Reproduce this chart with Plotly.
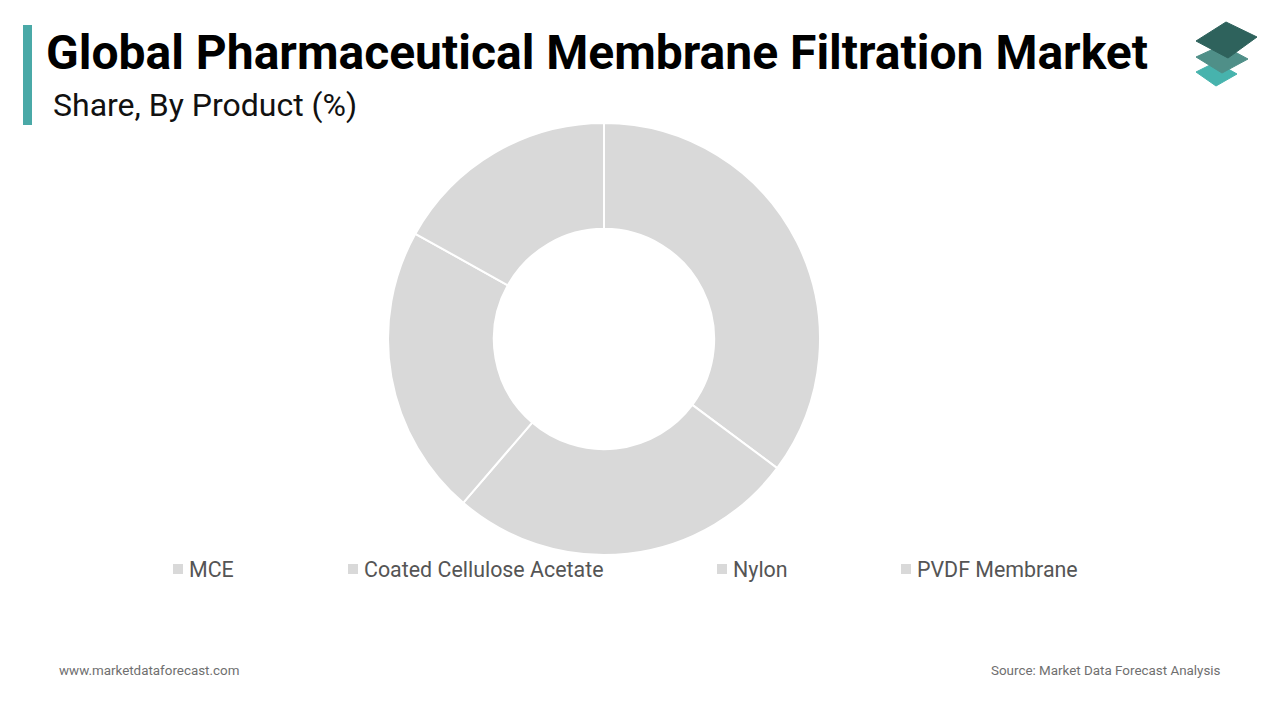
import plotly.graph_objects as go

categories = ["MCE", "Coated Cellulose Acetate", "Nylon", "PVDF Membrane"]
shares = [35.2, 26.1, 21.8, 16.9]

W, H = 1280, 720
slice_color = "#d9d9d9"

fig = go.Figure()
fig.add_trace(go.Pie(
    labels=categories,
    values=shares,
    hole=0.51,
    sort=False,
    direction="clockwise",
    rotation=0,
    marker=dict(colors=[slice_color] * len(categories), line=dict(color="white", width=2)),
    textinfo="none",
    hoverinfo="label+percent",
    showlegend=False,
    domain=dict(x=[(604 - 216) / W, (604 + 216) / W], y=[(720 - 339 - 216) / H, (720 - 339 + 216) / H]),
))

shapes = []
annotations = []

# accent bar
shapes.append(dict(type="rect", xref="paper", yref="paper",
                   x0=23 / W, x1=32 / W, y0=1 - 125 / H, y1=1 - 25 / H,
                   fillcolor="#4aa9a7", line=dict(width=0), layer="above"))

# title and subtitle
annotations.append(dict(text="<b>Global Pharmaceutical Membrane Filtration Market</b>",
                        x=44 / W, y=1 - 53 / H, xref="paper", yref="paper",
                        xanchor="left", yanchor="middle", showarrow=False,
                        font=dict(family="Roboto", size=48, color="#000000")))
annotations.append(dict(text="Share, By Product (%)",
                        x=51 / W, y=1 - 105 / H, xref="paper", yref="paper",
                        xanchor="left", yanchor="middle", showarrow=False,
                        font=dict(family="Roboto", size=32, color="#111111")))

# legend (manual)
legend_text_x = [187, 362, 731, 915]
for lbl, tx in zip(categories, legend_text_x):
    shapes.append(dict(type="rect", xref="paper", yref="paper",
                       x0=(tx - 14) / W, x1=(tx - 4) / W,
                       y0=1 - 574 / H, y1=1 - 564 / H,
                       fillcolor=slice_color, line=dict(width=0)))
    annotations.append(dict(text=lbl, x=tx / W, y=1 - 569 / H, xref="paper", yref="paper",
                            xanchor="left", yanchor="middle", showarrow=False,
                            font=dict(family="Roboto", size=21.4, color="#555555")))

# footer
annotations.append(dict(text="www.marketdataforecast.com", x=57 / W, y=1 - 670 / H,
                        xref="paper", yref="paper", xanchor="left", yanchor="middle",
                        showarrow=False, font=dict(family="Roboto", size=13.4, color="#6f6f6f")))
annotations.append(dict(text="Source: Market Data Forecast Analysis", x=1223 / W, y=1 - 670 / H,
                        xref="paper", yref="paper", xanchor="right", yanchor="middle",
                        showarrow=False, font=dict(family="Roboto", size=13.4, color="#6f6f6f")))

# logo: three stacked rhombi
def rhombus(pts, color):
    path = "M " + " L ".join(f"{x / W},{1 - y / H}" for x, y in pts) + " Z"
    return dict(type="path", xref="paper", yref="paper", path=path,
                fillcolor=color, line=dict(color=color, width=1), layer="above")

shapes.append(rhombus([(1196, 72), (1216, 62), (1237, 74), (1216, 86)], "#47b3ad"))
shapes.append(rhombus([(1196, 57), (1222, 45), (1248, 59), (1222, 73)], "#4f8f88"))
shapes.append(rhombus([(1196, 41), (1226, 22), (1257, 37), (1228, 58)], "#2e625c"))

fig.update_layout(
    width=W, height=H,
    margin=dict(l=0, r=0, t=0, b=0),
    paper_bgcolor="white", plot_bgcolor="white",
    shapes=shapes, annotations=annotations,
    font=dict(family="Roboto"),
)

fig.write_html("out.html", config={"displayModeBar": False},
               post_script="document.body.style.margin='0';")
